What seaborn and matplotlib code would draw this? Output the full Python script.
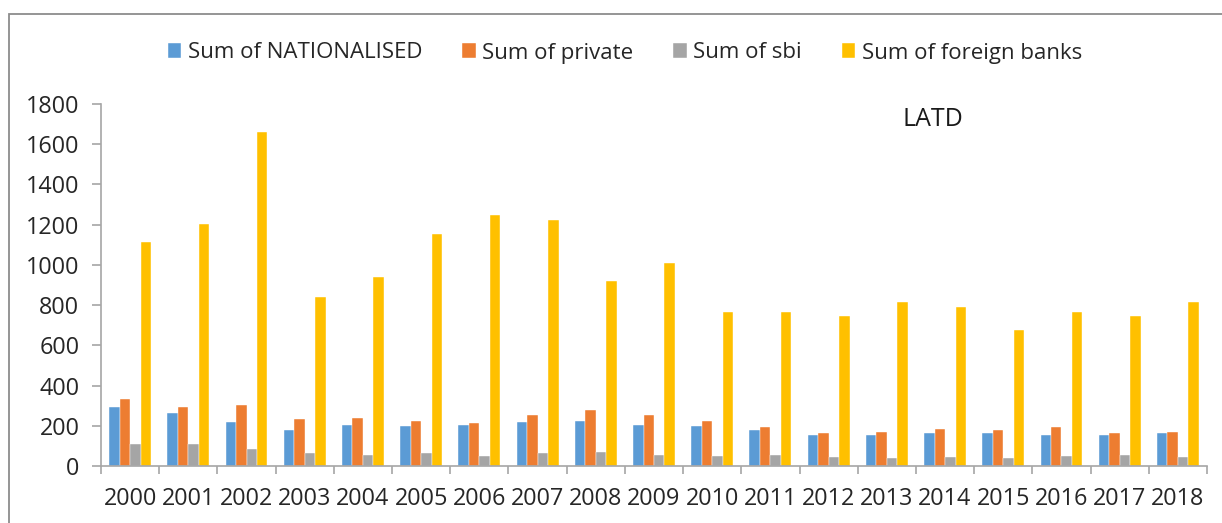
import numpy as np
import pandas as pd
import matplotlib
matplotlib.use("Agg")
import matplotlib.pyplot as plt
from matplotlib.patches import Rectangle
import seaborn as sns

years = [str(y) for y in range(2000, 2019)]
nationalised = [291, 266, 218, 181, 206, 200, 206, 218, 224, 206, 200, 181, 156, 156, 163, 163, 156, 156, 163]
private = [334, 291, 304, 236, 241, 223, 213, 256, 279, 256, 223, 193, 163, 168, 186, 181, 193, 163, 168]
sbi = [107, 107, 87, 63, 57, 63, 50, 63, 70, 57, 50, 57, 45, 38, 45, 38, 50, 57, 45]
foreign_banks = [1112, 1204, 1660, 840, 939, 1155, 1248, 1223, 919, 1007, 766, 766, 748, 816, 791, 675, 766, 748, 816]

series_names = ["Sum of NATIONALISED", "Sum of private", "Sum of sbi", "Sum of foreign banks"]
series_colors = ["#5B9BD5", "#ED7D31", "#A5A5A5", "#FFC000"]
y_ticks = [0, 200, 400, 600, 800, 1000, 1200, 1400, 1600, 1800]

df = pd.DataFrame({"year": years,
                   series_names[0]: nationalised,
                   series_names[1]: private,
                   series_names[2]: sbi,
                   series_names[3]: foreign_banks})
long_df = df.melt(id_vars="year", var_name="series", value_name="value")

sns.set_theme(style="white")
plt.rcParams["font.family"] = ["Open Sans", "DejaVu Sans"]
text_color = "#262626"
axis_color = "#A6A6A6"

fig = plt.figure(figsize=(12.22, 5.23), dpi=100)
ax = fig.add_axes([101 / 1222, 57 / 523, 1106 / 1222, 362 / 523])

sns.barplot(data=long_df, x="year", y="value", hue="series",
            hue_order=series_names, palette=series_colors, order=years,
            width=0.72, saturation=1, edgecolor="white", linewidth=0.3,
            errorbar=None, ax=ax)

ax.set_xlim(-0.5, len(years) - 0.5)
ax.set_ylim(0, 1800)
ax.set_yticks(y_ticks)
ax.set_xlabel("")
ax.set_ylabel("")

for side in ("top", "right"):
    ax.spines[side].set_visible(False)
for side in ("left", "bottom"):
    ax.spines[side].set_color(axis_color)
    ax.spines[side].set_linewidth(1.2)

ax.tick_params(axis="y", which="major", left=True, length=6.5, width=1.2,
               color=axis_color, labelsize=16.8, labelcolor=text_color, pad=9)
ax.tick_params(axis="x", which="major", bottom=False, length=0,
               labelsize=16.8, labelcolor=text_color, pad=15)
ax.set_xticks(np.arange(-0.5, len(years), 1.0), minor=True)
ax.tick_params(axis="x", which="minor", bottom=True, length=6, width=1.2,
               color=axis_color)

handles, labels = ax.get_legend_handles_labels()
ax.legend(handles, labels, loc="center", ncol=4, frameon=False,
          bbox_to_anchor=(625 / 1222, 1 - 53 / 523), bbox_transform=fig.transFigure,
          fontsize=16, labelcolor=text_color, handlelength=0.6, handleheight=0.65,
          handletextpad=0.3, columnspacing=1.8)

ax.text(933 / 1222, 1 - 119 / 523, "LATD", transform=fig.transFigure,
        ha="center", va="center", fontsize=18, color="#1a1a1a")

# outer chart frame (only top and left edges fall inside the canvas)
fig.add_artist(Rectangle((9 / 1222, -0.1), 1.2, 1.1 - 14 / 523,
                         transform=fig.transFigure, fill=False,
                         edgecolor="#8C8C8C", linewidth=1.3))

fig.savefig("out.png", dpi=100)
